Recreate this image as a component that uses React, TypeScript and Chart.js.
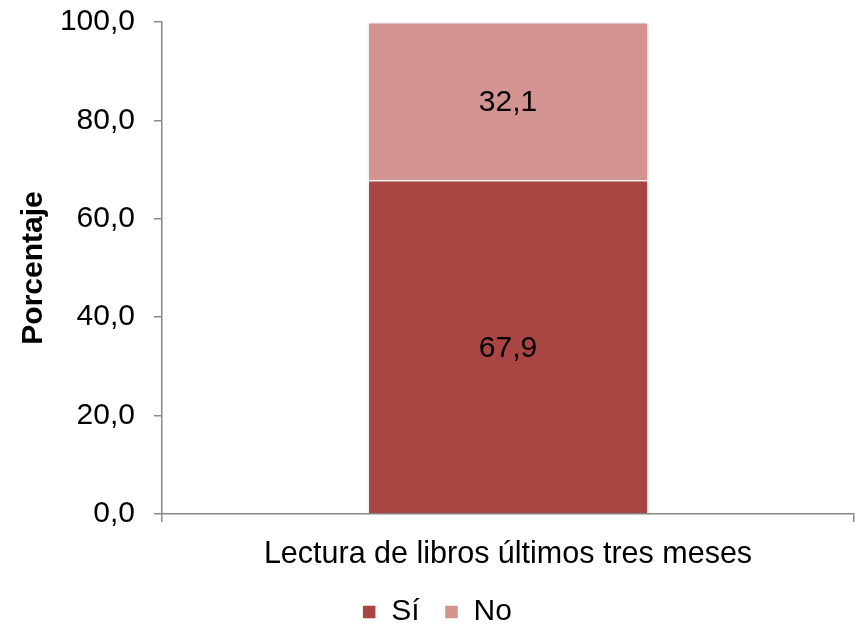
import React, { useEffect, useRef } from "react";
import { Chart, registerables } from "chart.js";

Chart.register(...registerables);

const categories = ["Lectura de libros últimos tres meses"];
const siValues = [67.9];
const noValues = [32.1];
const seriesNames = ["Sí", "No"];
const yTicks = [0, 20, 40, 60, 80, 100];

const FONT = "'Liberation Sans', Arial, sans-serif";
const fmt = (v: number) => v.toFixed(1).replace(".", ",");

const valueLabels = {
  id: "valueLabels",
  afterDatasetsDraw(chart: any) {
    const ctx = chart.ctx;
    ctx.save();
    ctx.font = `30px ${FONT}`;
    ctx.fillStyle = "#000";
    ctx.textAlign = "center";
    ctx.textBaseline = "middle";
    chart.data.datasets.forEach((ds: any, i: number) => {
      const meta = chart.getDatasetMeta(i);
      meta.data.forEach((el: any, j: number) => {
        const p = el.getCenterPoint();
        ctx.fillText(fmt(ds.data[j]), p.x, p.y + 2);
      });
    });
    ctx.restore();
  },
};

const barShadow = {
  id: "barShadow",
  beforeDatasetsDraw(chart: any) {
    const ctx = chart.ctx;
    ctx.save();
    ctx.shadowColor = "rgba(0,0,0,0.22)";
    ctx.shadowBlur = 4;
    ctx.shadowOffsetX = 1;
    ctx.shadowOffsetY = 1;
  },
  afterDatasetsDraw(chart: any) {
    chart.ctx.restore();
  },
};

const legendShift = {
  id: "legendShift",
  afterLayout(chart: any) {
    if (chart.legend) {
      chart.legend.left += 10;
      chart.legend.right += 10;
    }
  },
};

export default function App() {
  const ref = useRef<HTMLCanvasElement>(null);
  useEffect(() => {
    const chart = new Chart(ref.current!, {
      type: "bar",
      data: {
        labels: categories,
        datasets: [
          {
            label: seriesNames[0],
            data: siValues,
            backgroundColor: "#A94644",
            borderColor: "#ffffff",
            borderWidth: 1.5,
            barPercentage: 0.406,
            categoryPercentage: 1,
          },
          {
            label: seriesNames[1],
            data: noValues,
            backgroundColor: "#D39391",
            borderColor: "#ffffff",
            borderWidth: 1.5,
            barPercentage: 0.406,
            categoryPercentage: 1,
          },
        ],
      },
      options: {
        animation: false,
        responsive: true,
        maintainAspectRatio: false,
        layout: { padding: { left: 0, right: 10, top: 0, bottom: -11 } },
        scales: {
          x: {
            stacked: true,
            afterFit: (scale: any) => {
              scale.height = 58;
            },
            grid: {
              display: true,
              drawOnChartArea: false,
              offset: true,
              tickLength: 8,
              color: "#888",
              lineWidth: 1.5,
            },
            border: { color: "#888", width: 1.5 },
            ticks: {
              color: "#000",
              font: { family: FONT, size: 30.5 },
              padding: 14,
            },
          },
          y: {
            stacked: true,
            min: 0,
            max: 100,
            afterBuildTicks: (scale: any) => {
              scale.ticks = yTicks.map((v) => ({ value: v }));
            },
            afterFit: (scale: any) => {
              scale.width = 162;
            },
            grid: {
              display: true,
              drawOnChartArea: false,
              tickLength: 8,
              color: "#888",
              lineWidth: 1.5,
            },
            border: { color: "#888", width: 1.5 },
            ticks: {
              color: "#000",
              font: { family: FONT, size: 30, lineHeight: 0.2 },
              padding: 19,
              callback: (v: any) => fmt(Number(v)),
            },
            title: {
              display: true,
              text: "Porcentaje",
              color: "#000",
              font: { family: FONT, size: 30, weight: "bold" },
              padding: { top: 16, bottom: 0 },
            },
          },
        },
        plugins: {
          legend: {
            position: "bottom",
            labels: {
              color: "#000",
              font: { family: FONT, size: 30 },
              boxWidth: 14,
              boxHeight: 14,
              padding: 25,
            },
          },
          tooltip: { enabled: false },
        },
      },
      plugins: [barShadow, valueLabels, legendShift],
    });
    return () => chart.destroy();
  }, []);
  return (
    <div style={{ position: "absolute", left: 0, top: 0, width: 864, height: 626 }}>
      <canvas ref={ref} />
    </div>
  );
}
